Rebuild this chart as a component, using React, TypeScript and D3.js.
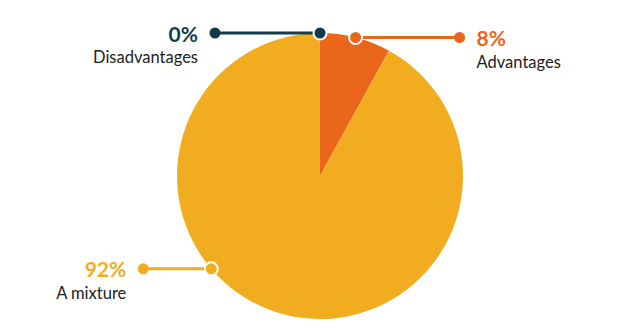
import * as d3 from "d3";
import React from "react";

// answers, in drawing order (clockwise from 12 o'clock)
const categories = ["Disadvantages", "Advantages", "A mixture"];
const values = [0, 8, 92];
const colors = ["#123b4c", "#e9661b", "#f1ac1f"];

const width = 620;
const height = 330;
const cx = 320;
const cy = 176;
const radius = 143;

// where each callout leaves the pie: angle (deg, clockwise from top; null = slice centroid),
// leader direction (-1 left, 1 right) and length
const calloutAngle = [null, null, 229.5];
const calloutSide = [-1, 1, -1];
const calloutLength = [105, 104, 68];

function App() {
	const pie = d3
		.pie<number>()
		.sort(null)
		.value((d) => d);
	const arcs = pie(values);
	const arc = d3.arc<d3.PieArcDatum<number>>().innerRadius(0).outerRadius(radius);

	const font = "Lato, 'Open Sans', sans-serif";

	return (
		<svg
			width={width}
			height={height}
			style={{ position: "absolute", left: 0, top: 0, background: "#fff" }}
		>
			<g transform={`translate(${cx},${cy})`}>
				{arcs.map((a, i) => (
					<path key={i} d={arc(a) || ""} fill={colors[i]} />
				))}
				{arcs.map((a, i) => {
					const deg =
						calloutAngle[i] === null
							? ((a.startAngle + a.endAngle) / 2) * (180 / Math.PI)
							: (calloutAngle[i] as number);
					const t = (deg * Math.PI) / 180;
					const x0 = radius * Math.sin(t);
					const y0 = -radius * Math.cos(t);
					const side = calloutSide[i];
					const x1 = x0 + side * calloutLength[i];
					const tx = x1 + side * 17;
					const anchor = side < 0 ? "end" : "start";
					return (
						<g key={"c" + i}>
							<line
								x1={x0}
								y1={y0}
								x2={x1}
								y2={y0}
								stroke={colors[i]}
								strokeWidth={3}
							/>
							<circle cx={x1} cy={y0} r={5.5} fill={colors[i]} />
							<circle
								cx={x0}
								cy={y0}
								r={6.5}
								fill={colors[i]}
								stroke="#fff"
								strokeWidth={2}
							/>
							<text
								x={tx}
								y={y0 + 8.5}
								textAnchor={anchor}
								fontFamily={font}
								fontWeight={700}
								fontSize={21}
								fill={colors[i]}
							>
								{values[i] + "%"}
							</text>
							<text
								x={tx}
								y={y0 + 30}
								textAnchor={anchor}
								fontFamily={font}
								fontSize={16.5}
								fill="#222"
							>
								{categories[i]}
							</text>
						</g>
					);
				})}
			</g>
		</svg>
	);
}

export default App;
